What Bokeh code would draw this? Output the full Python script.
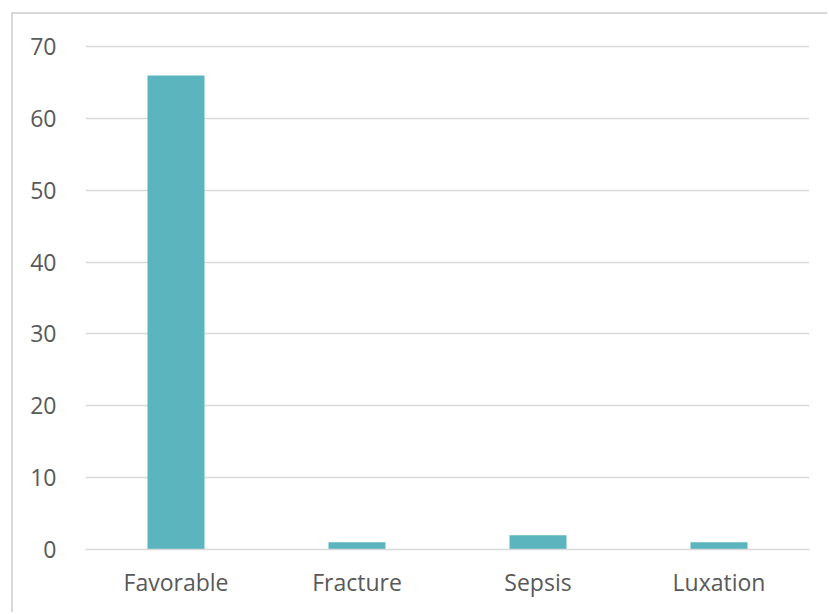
from bokeh.plotting import figure
from bokeh.models import FactorRange, Range1d, FixedTicker, ColumnDataSource
from bokeh.embed import file_html
from bokeh.resources import INLINE

# Outcome counts per category
categories = ["Favorable", "Fracture", "Sepsis", "Luxation"]
counts = [66, 1, 2, 1]
y_ticks = [0, 10, 20, 30, 40, 50, 60, 70]

BAR = "#5BB5BF"
GRID = "#D9D9D9"
TEXT = "#595959"
FONT = "Open Sans"

src = ColumnDataSource(data=dict(cat=categories, n=counts))

p = figure(
    width=816, height=600,
    x_range=FactorRange(*categories, range_padding=0),
    y_range=Range1d(0, 70.3),
    output_backend="svg", toolbar_location=None,
    min_border_left=72, min_border_right=20,
    min_border_top=30, min_border_bottom=65,
)
# chart area frame: light border on the left and top edges
p.styles = {
    "margin-left": "11px",
    "margin-top": "12px",
    "border-left": "2px solid #D9D9D9",
    "border-top": "2px solid #D9D9D9",
}
p.outline_line_color = None
p.background_fill_color = "white"
p.border_fill_color = "white"

p.vbar(x="cat", top="n", width=0.315, source=src, fill_color=BAR, line_color=None)

# y axis: labels only, gridlines across the frame
p.yaxis.ticker = FixedTicker(ticks=y_ticks)
p.yaxis.axis_line_color = None
p.yaxis.major_tick_line_color = None
p.yaxis.minor_tick_line_color = None
p.yaxis.major_label_text_font = FONT
p.yaxis.major_label_text_font_size = "23px"
p.yaxis.major_label_text_color = TEXT
p.yaxis.major_label_standoff = 23

p.ygrid.ticker = FixedTicker(ticks=y_ticks)
p.ygrid.grid_line_color = GRID
p.ygrid.grid_line_width = 1.5
p.xgrid.grid_line_color = None

p.xaxis.axis_line_color = GRID
p.xaxis.axis_line_width = 1.5
p.xaxis.major_tick_line_color = None
p.xaxis.minor_tick_line_color = None
p.xaxis.major_label_text_font = FONT
p.xaxis.major_label_text_font_size = "23px"
p.xaxis.major_label_text_color = TEXT
p.xaxis.major_label_standoff = 10

open("out.html", "w").write(file_html(p, INLINE))
